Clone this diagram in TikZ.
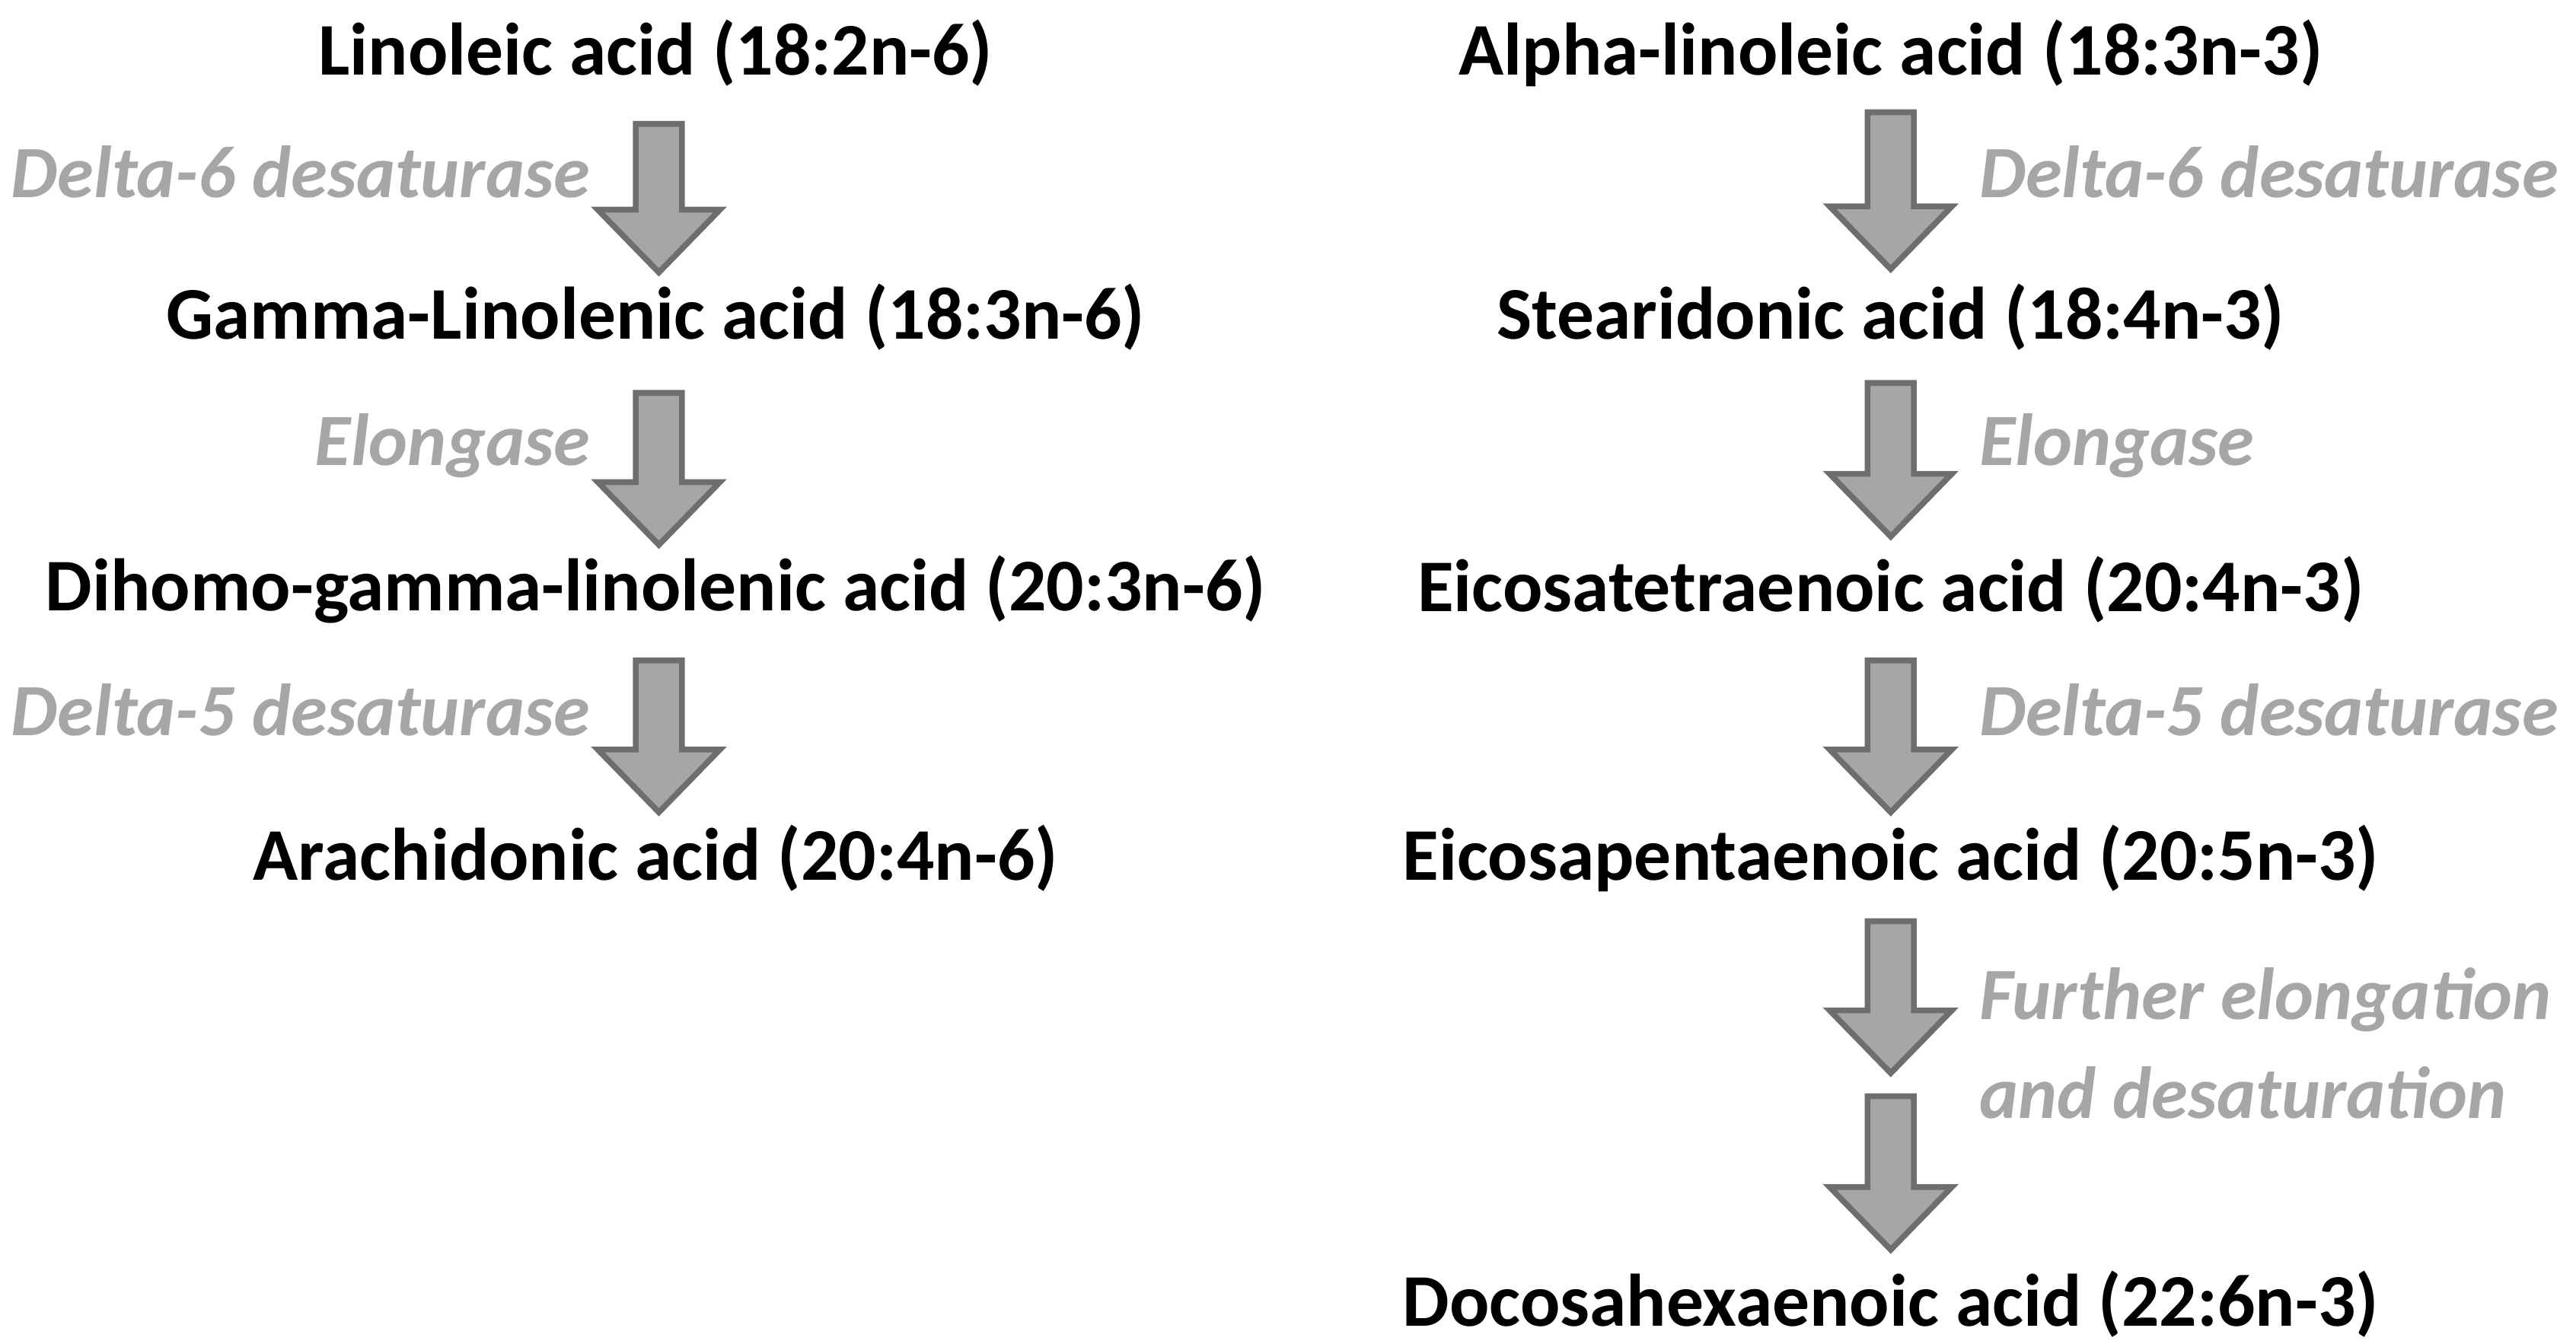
\documentclass[tikz,border=0pt]{standalone}
\usepackage{fontspec}
\setmainfont{Carlito}
\usetikzlibrary{positioning}
\definecolor{arrowfill}{HTML}{A6A6A6}
\definecolor{arrowline}{HTML}{6E6E6E}
\definecolor{enzymegray}{HTML}{A6A6A6}
% fat block arrow pointing down: name, x centre, y top, y tip
\newcommand{\fatarrow}[4]{%
  \draw[arrowbox] (#2-14,#3) -- (#2+14,#3) -- (#2+14,#4-38) -- (#2+37,#4-38)
    -- (#2,#4) -- (#2-37,#4-38) -- (#2-14,#4-38) -- cycle;
  \coordinate (#1) at (#2,#3/2+#4/2);}
\begin{document}
\begin{tikzpicture}[x=0.01cm,y=-0.01cm,
    acid/.style ={font=\fontsize{12.8}{15}\selectfont\bfseries, inner sep=0pt, text=black},
    enzyme/.style ={font=\fontsize{12.7}{15}\selectfont\bfseries\itshape, inner sep=0pt, text=enzymegray, align=left},
    arrowbox/.style ={fill=arrowfill, draw=arrowline, line width=1pt, line join=miter}]
  \useasboundingbox (0,0) rectangle (1560,814);
  % omega-6 pathway
  \node [acid] (la)   at (397,32)  {Linoleic acid (18:2n-6)};
  \node [acid] (gla)  at (397,192) {Gamma-Linolenic acid (18:3n-6)};
  \node [acid] (dgla) at (397,357) {Dihomo-gamma-linolenic acid (20:3n-6)};
  \node [acid] (aa)   at (397,520) {Arachidonic acid (20:4n-6)};
  \fatarrow{l1}{399}{75}{165}
  \fatarrow{l2}{399}{238}{330}
  \fatarrow{l3}{399}{400}{492}
  \node [enzyme, anchor=east] (d6l) at (358,104) {Delta-6 desaturase};
  \node [enzyme, anchor=east] (ell) at (358,270) {Elongase};
  \node [enzyme, anchor=east] (d5l) at (358,430) {Delta-5 desaturase};
  % omega-3 pathway
  \node [acid] (ala) at (1145,32)  {Alpha-linoleic acid (18:3n-3)};
  \node [acid] (sda) at (1145,192) {Stearidonic acid (18:4n-3)};
  \node [acid] (eta) at (1145,357) {Eicosatetraenoic acid (20:4n-3)};
  \node [acid] (epa) at (1145,520) {Eicosapentaenoic acid (20:5n-3)};
  \node [acid] (dha) at (1145,790) {Docosahexaenoic acid (22:6n-3)};
  \fatarrow{r1}{1145}{68}{163}
  \fatarrow{r2}{1145}{232}{325}
  \fatarrow{r3}{1145}{400}{492}
  \fatarrow{r4}{1145}{558}{650}
  \fatarrow{r5}{1145}{664}{757}
  \node [enzyme, anchor=west] (d6r) at (1198,104) {Delta-6 desaturase};
  \node [enzyme, anchor=west] (elr) at (1198,270) {Elongase};
  \node [enzyme, anchor=west] (d5r) at (1198,430) {Delta-5 desaturase};
  \node [enzyme, anchor=west] (fed) at (1198,632) {Further elongation\\[2pt]and desaturation};
\end{tikzpicture}
\end{document}
